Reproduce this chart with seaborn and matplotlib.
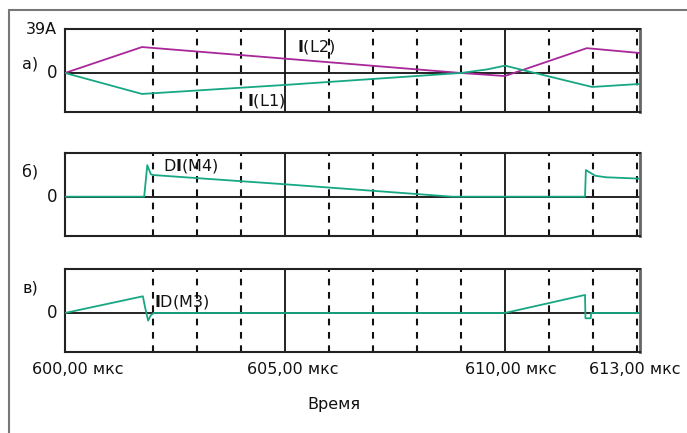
import numpy as np
import pandas as pd
import seaborn as sns
import matplotlib.pyplot as plt
from matplotlib.lines import Line2D

# time axis, microseconds
t_l2 = [600.0, 601.75, 605.0, 609.0, 610.0, 611.86, 613.07]
i_l2 = [0.0, 23.0, 12.7, 0.0, -2.7, 22.0, 17.7]

t_l1 = [600.0, 601.75, 605.0, 609.0, 609.6, 610.0, 611.98, 613.07]
i_l1 = [0.0, -18.6, -10.6, 0.0, 3.2, 6.5, -12.4, -9.7]

t_m4 = [600.0, 601.8, 601.87, 601.95, 602.0, 605.0, 608.8, 611.82, 611.84, 612.05, 612.3, 613.07]
i_m4 = [0.0, 0.0, 28.0, 20.0, 19.2, 11.0, 0.0, 0.0, 23.6, 18.6, 17.2, 16.0]

t_m3 = [600.0, 601.77, 601.82, 601.89, 601.95, 602.02, 610.0, 611.82, 611.83, 611.95, 611.96, 613.07]
i_m3 = [0.0, 14.8, 5.0, -6.8, -2.0, 0.0, 0.0, 16.0, -4.7, -4.7, 0.0, 0.0]

solid_ticks = [605, 610]
dashed_ticks = [602, 603, 604, 606, 607, 608, 609, 611, 612, 613]
tick_values = [600, 605, 610, 613]
tick_labels = ["600,00 мкс", "605,00 мкс", "610,00 мкс", "613,00 мкс"]
tick_offsets = [13, 8, 6, -2]

panel_names = ["а)", "б)", "в)"]

purple = "#a8289a"
green = "#17a883"

sns.set_style("white")
plt.rcParams['font.family'] = ['DejaVu Sans']
plt.rcParams['text.color'] = "#111111"

fig = plt.figure(figsize=(6.87, 4.33), dpi=100)

# outer frame
fig.add_artist(Line2D([9/687, 1.0], [1 - 10/433, 1 - 10/433], transform=fig.transFigure, color="#777777", lw=1.5))
fig.add_artist(Line2D([9/687, 9/687], [1 - 10/433, 0.0], transform=fig.transFigure, color="#777777", lw=1.5))

left = 65/687
width = (640 - 65)/687
bottoms = [1 - 112/433, 1 - 235.7/433, 1 - 352/433]
height = 83/433

axes = [fig.add_axes([left, b, width, height]) for b in bottoms]

for ax in axes:
    ax.set_xlim(600, 613.07)
    ax.set_ylim(-34.6, 39)
    ax.axhline(0, color="#111111", lw=1.3, zorder=1)
    for x in solid_ticks:
        ax.axvline(x, color="#111111", lw=1.3, zorder=1)
    for x in dashed_ticks:
        ax.axvline(x, color="#111111", lw=1.5, ls=(0, (3.2, 3.2)), zorder=1)
    for s in ax.spines.values():
        s.set_color("#222222")
        s.set_linewidth(1.5)
    ax.spines['right'].set_color("#666666")
    ax.spines['right'].set_linewidth(2)
    ax.set_xticks([])
    ax.set_yticks([])
    ax.set_xlabel("")
    ax.set_ylabel("")

sns.lineplot(x=t_l2, y=i_l2, ax=axes[0], color=purple, lw=1.3, estimator=None, zorder=3)
sns.lineplot(x=t_l1, y=i_l1, ax=axes[0], color=green, lw=1.3, estimator=None, zorder=3)
sns.lineplot(x=t_m4, y=i_m4, ax=axes[1], color=green, lw=1.3, estimator=None, zorder=3)
sns.lineplot(x=t_m3, y=i_m3, ax=axes[2], color=green, lw=1.3, estimator=None, zorder=3)

fs = 11.5
axes[0].text(605.27, 23, r"$\mathbf{I}$(L2)", fontsize=fs, ha="left", va="center")
axes[0].text(604.14, -24.8, r"$\mathbf{I}$(L1)", fontsize=fs, ha="left", va="center")
axes[1].text(602.23, 27.2, r"D$\mathbf{I}$(M4)", fontsize=fs, ha="left", va="center")
axes[2].text(602.02, 9.7, r"$\mathbf{I}$D(M3)", fontsize=fs, ha="left", va="center")

for ax in axes:
    ax.text(-0.014, 0.0, "0", transform=ax.get_yaxis_transform(), fontsize=fs + 0.5, ha="right", va="center")
axes[0].text(-0.014, 39, "39A", transform=axes[0].get_yaxis_transform(), fontsize=fs, ha="right", va="center")

name_y = [1 - 64/433, 1 - 172/433, 1 - 288/433]
for name, y in zip(panel_names, name_y):
    fig.text(22/687, y, name, fontsize=fs, ha="left", va="center")

for val, lab, off in zip(tick_values, tick_labels, tick_offsets):
    axes[2].annotate(lab, xy=(val, 0), xycoords=("data", "axes fraction"),
                     xytext=(off, -10), textcoords="offset pixels",
                     ha="center", va="top", fontsize=fs)

fig.text(334/687, 1 - 404/433, "Время", fontsize=fs, ha="center", va="center")

fig.savefig("out.png", dpi=100)
